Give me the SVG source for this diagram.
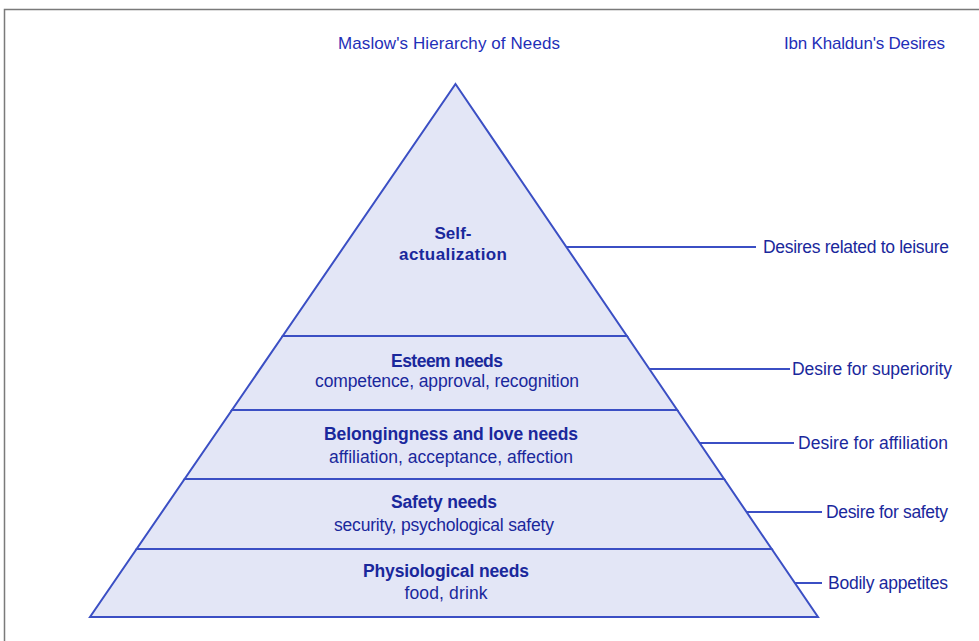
<svg xmlns="http://www.w3.org/2000/svg" width="979" height="641" viewBox="0 0 979 641">
  <style>
    .tier { fill: #e3e6f6; stroke: #3b4fc4; stroke-width: 2; stroke-linejoin: miter; }
    .conn { stroke: #3b4fc4; stroke-width: 2; fill: none; }
    .title { font-family: "Liberation Sans", Arial, sans-serif; font-size: 17px; fill: #1f2fb8; }
    .head { font-family: "Liberation Sans", Arial, sans-serif; font-size: 17.5px; font-weight: bold; fill: #1a289c; text-anchor: middle; }
    .sub { font-family: "Liberation Sans", Arial, sans-serif; font-size: 17.5px; fill: #1a289c; text-anchor: middle; }
    .desire { font-family: "Liberation Sans", Arial, sans-serif; font-size: 17.5px; fill: #1a289c; }
  </style>
  <rect x="0" y="0" width="979" height="641" fill="#ffffff"/>
  <path d="M4.5 641 V9.5 H979" fill="none" stroke="#7a7a7a" stroke-width="1.5"/>

  <g id="titles">
    <text class="title" x="338" y="49" textLength="222">Maslow's Hierarchy of Needs</text>
    <text class="title" x="784" y="49" textLength="161">Ibn Khaldun's Desires</text>
  </g>

  <g id="self-actualization">
    <polygon class="tier" points="455.5,84 626.9,336 282.7,336"/>
    <text class="head" x="453" y="239" textLength="37" style="font-size:17px">Self-</text>
    <text class="head" x="453" y="260" textLength="108" style="font-size:17px">actualization</text>
  </g>
  <g id="esteem">
    <polygon class="tier" points="282.7,336 626.9,336 677.2,410 232,410"/>
    <text class="head" x="447" y="367" textLength="112">Esteem needs</text>
    <text class="sub" x="447" y="387" textLength="264">competence, approval, recognition</text>
  </g>
  <g id="belongingness">
    <polygon class="tier" points="232,410 677.2,410 724.1,479 184.6,479"/>
    <text class="head" x="451" y="440" textLength="254">Belongingness and love needs</text>
    <text class="sub" x="451" y="463" textLength="244">affiliation, acceptance, affection</text>
  </g>
  <g id="safety">
    <polygon class="tier" points="184.6,479 724.1,479 771.7,549 136.6,549"/>
    <text class="head" x="444" y="508" textLength="106">Safety needs</text>
    <text class="sub" x="444" y="531" textLength="220">security, psychological safety</text>
  </g>
  <g id="physiological">
    <polygon class="tier" points="136.6,549 771.7,549 818,617 90,617"/>
    <text class="head" x="446" y="577" textLength="166">Physiological needs</text>
    <text class="sub" x="446" y="599" textLength="83">food, drink</text>
  </g>

  <g id="connectors">
    <line class="conn" x1="566.4" y1="247" x2="756" y2="247"/>
    <line class="conn" x1="649.3" y1="369" x2="790" y2="369"/>
    <line class="conn" x1="699.7" y1="443" x2="794" y2="443"/>
    <line class="conn" x1="746.6" y1="512" x2="822" y2="512"/>
    <line class="conn" x1="794.9" y1="583" x2="822" y2="583"/>
  </g>

  <g id="desire-leisure"><text class="desire" x="763" y="253" textLength="186">Desires related to leisure</text></g>
  <g id="desire-superiority"><text class="desire" x="792" y="375" textLength="160">Desire for superiority</text></g>
  <g id="desire-affiliation"><text class="desire" x="798" y="449" textLength="150">Desire for affiliation</text></g>
  <g id="desire-safety"><text class="desire" x="826" y="518" textLength="122">Desire for safety</text></g>
  <g id="bodily-appetites"><text class="desire" x="828" y="589" textLength="120">Bodily appetites</text></g>
</svg>
